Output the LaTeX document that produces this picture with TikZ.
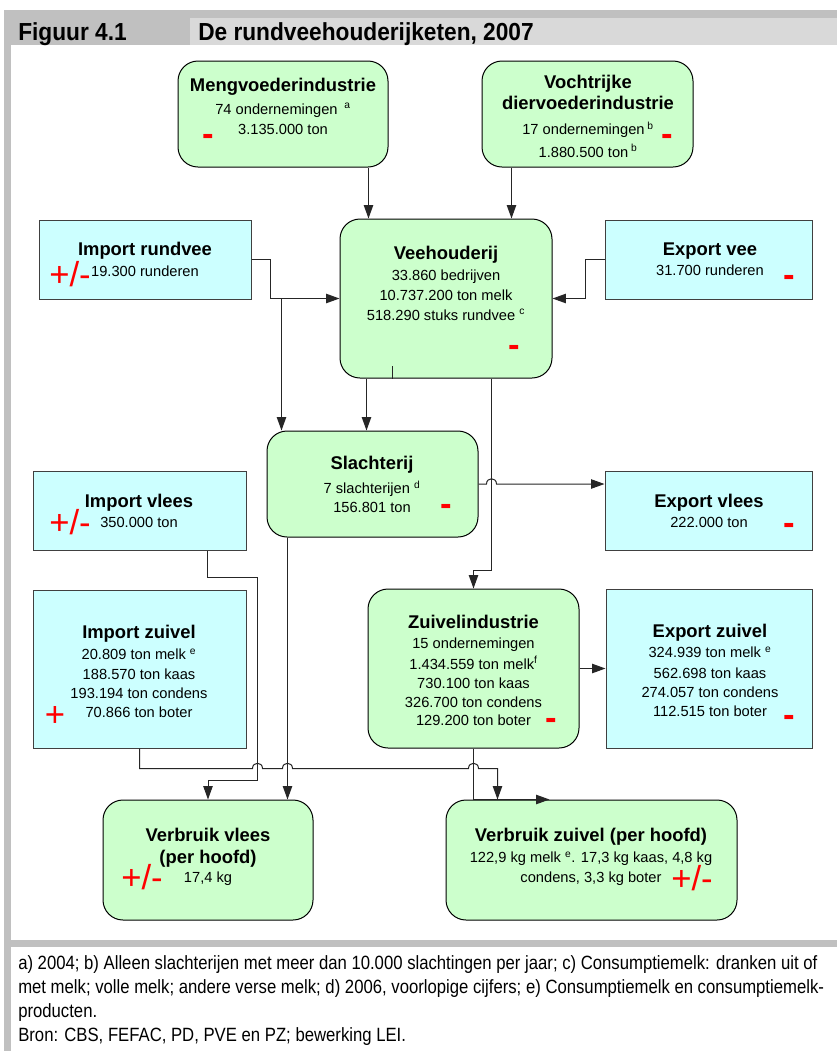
\documentclass[tikz,border=0pt]{standalone}
\usepackage{fontspec}
\setmainfont{Liberation Sans}
\newfontfamily\headfont[FakeStretch=0.92]{Liberation Sans}
\newfontfamily\notefont[FakeStretch=0.87]{Liberation Sans}
\usetikzlibrary{arrows.meta, calc, fit}
\definecolor{boxgreen}{HTML}{CCFFCC}
\definecolor{boxcyan}{HTML}{CCFFFF}
\definecolor{framegray}{HTML}{C0C0C0}
\definecolor{headgray}{HTML}{D9D9D9}
\newcommand\boxtitle[1]{{\fontsize{13.8pt}{14.5pt}\selectfont\bfseries #1}}
\newcommand\hop[1]{-- ($(#1)+(-5,0)$) .. controls +(0,-7) and +(0,-7) .. ($(#1)+(5,0)$)}

\begin{document}
\begin{tikzpicture}[x=0.75pt, y=-0.75pt,
    greenbox/.style={draw=black, fill=boxgreen, rounded corners=15pt, line width=0.75pt, inner sep=0pt},
    cyanbox/.style={draw=black!75, fill=boxcyan, line width=0.75pt, inner sep=0pt},
    boxtext/.style={anchor=north, inner sep=0pt, align=center, font=\fontsize{11pt}{14.5pt}\selectfont},
    sign/.style={text=red, inner sep=0pt, font=\fontsize{26pt}{26pt}\selectfont, text height=0.6em, text depth=0pt},
    minus/.style={sign, font=\fontsize{26pt}{26pt}\selectfont\bfseries},
    arr/.style={-{Triangle[length=10pt, width=7pt]}, draw=black!85, line width=0.75pt},
    line/.style={draw=black!85, line width=0.75pt}]
    \useasboundingbox (0,0) rectangle (837,1051);
    \fill[white] (0,0) rectangle (837,1051);
    % frame
    \fill[framegray] (4,10) rectangle (837,45);
    \fill[headgray] (190,18) rectangle (837,45);
    \fill[framegray] (4,45) rectangle (11,1051);
    \fill[framegray] (4,940) rectangle (837,947);
    \node[anchor=base west, inner sep=0pt, font=\headfont\fontsize{18.5pt}{20pt}\selectfont\bfseries] (fignr) at (18,40) {Figuur 4.1};
    \node[anchor=base west, inner sep=0pt, font=\headfont\fontsize{18.5pt}{20pt}\selectfont\bfseries] (figtitle) at (198,40) {De rundveehouderijketen, 2007};

    % boxes
    \node[greenbox, fit={(178,61) (388,167)}] (meng) {};
    \node[greenbox, fit={(482,61) (693,167)}] (vocht) {};
    \node[greenbox, fit={(340,219) (552,378)}] (vee) {};
    \node[cyanbox, fit={(39,220) (251,299)}] (imprund) {};
    \node[cyanbox, fit={(605,220) (812,299)}] (expvee) {};
    \node[greenbox, fit={(267,431) (478,537)}] (slacht) {};
    \node[cyanbox, fit={(33,471) (246,550)}] (impvlees) {};
    \node[cyanbox, fit={(605,471) (812,550)}] (expvlees) {};
    \node[cyanbox, fit={(33,590) (246,748)}] (impzuiv) {};
    \node[greenbox, fit={(368,589) (579,748)}] (zuivel) {};
    \node[cyanbox, fit={(606,589) (812,748)}] (expzuiv) {};
    \node[greenbox, fit={(103,800) (313,920)}] (verbvlees) {};
    \node[greenbox, fit={(446,800) (737,920)}] (verbzuiv) {};

    % texts
    \node[boxtext] (mengtxt) at (283,78) {\boxtitle{Mengvoederindustrie}\\[2.5pt] 74 ondernemingen\hspace{5pt}\textsuperscript{a}\\[0.5pt] 3.135.000 ton};
    \node[boxtext] (vochttxt) at (588,75) {\boxtitle{Vochtrijke}\\[1.5pt]\boxtitle{diervoederindustrie}\\[4pt] 17 ondernemingen\hspace{2pt}\textsuperscript{b}\\[2.5pt] 1.880.500 ton\hspace{2pt}\textsuperscript{b}};
    \node[boxtext] (veetxt) at (446,246) {\boxtitle{Veehouderij}\\[1.5pt] 33.860 bedrijven\\ 10.737.200 ton melk\\[0.5pt] 518.290 stuks rundvee\hspace{3pt}\textsuperscript{c}};
    \node[boxtext] (imprundtxt) at (145,242) {\boxtitle{Import rundvee}\\[1.5pt] 19.300 runderen};
    \node[boxtext] (expveetxt) at (710,243) {\boxtitle{Export vee}\\[0.5pt] 31.700 runderen};
    \node[boxtext] (slachttxt) at (372,456) {\boxtitle{Slachterij}\\[3.5pt] 7 slachterijen\hspace{3pt}\textsuperscript{d}\\ 156.801 ton};
    \node[boxtext] (impvleestxt) at (139,494) {\boxtitle{Import vlees}\\[0.5pt] 350.000 ton};
    \node[boxtext] (expvleestxt) at (709,494) {\boxtitle{Export vlees}\\[0.5pt] 222.000 ton};
    \node[boxtext] (impzuivtxt) at (139,625) {\boxtitle{Import zuivel}\\[1.5pt] 20.809 ton melk\hspace{3pt}\textsuperscript{e}\\ 188.570 ton kaas\\ 193.194 ton condens\\ 70.866 ton boter};
    \node[boxtext] (zuiveltxt) at (473.5,615) {\boxtitle{Zuivelindustrie}\\[0.5pt] 15 ondernemingen\\[1pt] 1.434.559 ton melk\textsuperscript{f}\\ 730.100 ton kaas\\[-0.5pt] 326.700 ton condens\\[-0.5pt] 129.200 ton boter};
    \node[boxtext] (expzuivtxt) at (710,624) {\boxtitle{Export zuivel}\\[0.5pt] 324.939 ton melk\hspace{3pt}\textsuperscript{e}\\[1pt] 562.698 ton kaas\\ 274.057 ton condens\\ 112.515 ton boter};
    \node[boxtext] (verbvleestxt) at (208,828) {\boxtitle{Verbruik vlees}\\[2pt]\boxtitle{(per hoofd)}\\ 17,4 kg};
    \node[boxtext] (verbzuivtxt) at (591,828) {\boxtitle{Verbruik zuivel (per hoofd)}\\[1.5pt] 122,9 kg melk\hspace{3pt}\textsuperscript{e}. 17,3 kg kaas, 4,8 kg};
    \node[boxtext] (verbzuivtxt2) at (591,871.5) {condens, 3,3 kg boter};

    % signs
    \node[minus] (mengsign) at (208,141) {-};
    \node[minus] (vochtsign) at (667,141) {-};
    \node[minus] (veesign) at (514,352) {-};
    \node[sign] (imprundsign) at (70,282) {+/-};
    \node[minus] (expveesign) at (789,282) {-};
    \node[minus] (slachtsign) at (446,511) {-};
    \node[sign] (impvleessign) at (70,530) {+/-};
    \node[minus] (expvleessign) at (789,530) {-};
    \node[sign] (impzuivsign) at (55,722) {+};
    \node[minus] (zuivelsign) at (551,725) {-};
    \node[minus] (expzuivsign) at (789,722) {-};
    \node[sign] (verbvleessign) at (142,885) {+/-};
    \node[sign] (verbzuivsign) at (692,886) {+/-};

    % connectors
    \coordinate (mengout) at ($(meng.south east)+(-20,0)$);
    \coordinate (vochtout) at ($(vocht.south west)+(30,0)$);
    \coordinate (split) at ($(imprund.east)+(30,0)$);
    \coordinate (veeout) at ($(vee.south west)+(27,0)$);
    \coordinate (veetick) at ($(vee.south west)+(53,0)$);
    \coordinate (zuivin) at ($(vee.south east)+(-61,0)$);
    \coordinate (vleesin) at ($(impvlees.south west)+(175,0)$);
    \coordinate (slachtout) at ($(slacht.south west)+(21,0)$);
    \coordinate (zline) at ($(impzuiv.south)+(0,20)$);
    \coordinate (zuivbend) at ($(verbzuiv.north west)+(52,0)$);

    \draw[arr] (mengout) -- (mengout |- vee.north);
    \draw[arr] (vochtout) -- (vochtout |- vee.north);
    \draw[arr] (imprund.east) -- ++(19,0) |- (vee.west);
    \draw[arr] (split |- vee.west) -- (split |- slacht.north);
    \draw[arr] (expvee.west) -- ++(-19,0) |- (vee.east);
    \draw[arr] (veeout) -- (veeout |- slacht.north);
    \draw[line] (veetick) -- ++(0,-13);
    \draw[arr] (zuivin) -- ++(0,192) -| (zuivel.north);
    \coordinate (hopa) at (zuivin |- slacht.east);
    \draw[arr] (slacht.east) \hop{hopa} -- (expvlees.west |- slacht.east);
    \draw[arr] (zuivel.east) -- (expzuiv.west);
    \draw[arr] (vleesin) -- ++(0,27) -- ++(50,0) coordinate (vleesbend) -- ++(0,203) -| (verbvlees.north);
    \draw[arr] (slachtout) -- (slachtout |- verbvlees.north);
    \coordinate (hopb) at (vleesbend |- zline);
    \coordinate (hopc) at (slachtout |- zline);
    \coordinate (hopd) at (zuivel.south |- zline);
    \draw[arr] (impzuiv.south) -- (zline) \hop{hopb} \hop{hopc} \hop{hopd} -- (zuivbend |- zline) -- (zuivbend);
    \draw[arr] (zuivel.south) -- (zuivel.south |- verbzuiv.north) -- ++(76,0);

    % notes
    \node[anchor=north west, inner sep=0pt, align=left, font=\notefont\fontsize{14.4pt}{18pt}\selectfont] (notes) at (18,955) {a) 2004; b) Alleen slachterijen met meer dan 10.000 slachtingen per jaar; c) Consumptiemelk: dranken uit of\\ met melk; volle melk; andere verse melk; d) 2006, voorlopige cijfers; e) Consumptiemelk en consumptiemelk-\\ producten.\\ Bron: CBS, FEFAC, PD, PVE en PZ; bewerking LEI.};
\end{tikzpicture}
\end{document}
